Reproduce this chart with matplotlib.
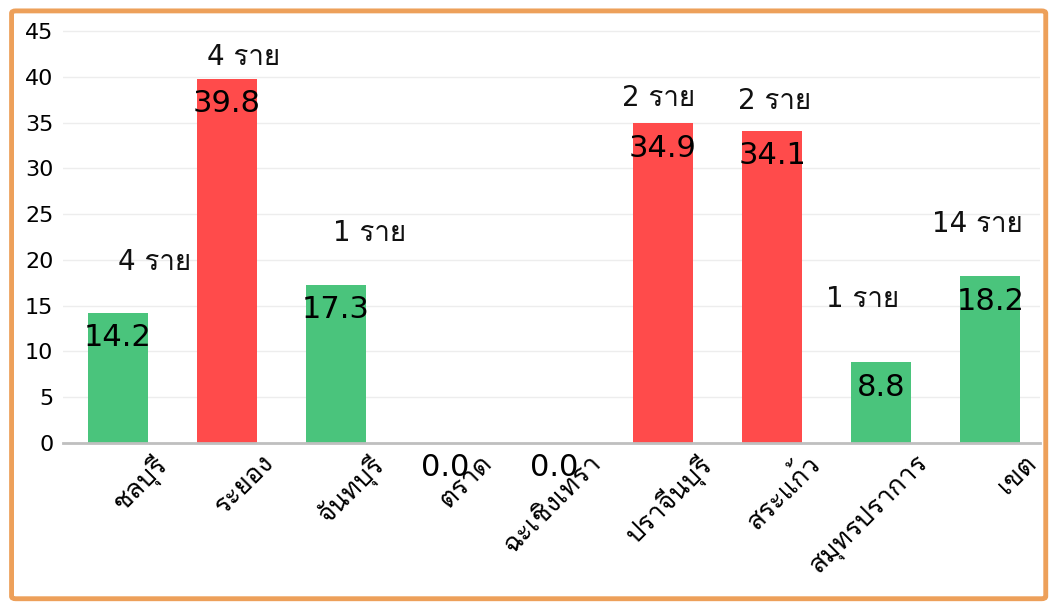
import matplotlib
matplotlib.use("Agg")
import matplotlib.pyplot as plt
import matplotlib.font_manager as fm
import matplotlib.transforms as mtransforms
from matplotlib.patches import FancyBboxPatch
from matplotlib.ft2font import FT2Font

# data
provinces = ['ชลบุรี', 'ระยอง', 'จันทบุรี', 'ตราด', 'ฉะเชิงเทรา',
             'ปราจีนบุรี', 'สระแก้ว', 'สมุทรปราการ', 'เขต']
rates = [14.2, 39.8, 17.3, 0.0, 0.0, 34.9, 34.1, 8.8, 18.2]
cases = [4, 4, 1, 0, 0, 2, 2, 1, 14]
is_high = [False, True, False, False, False, True, True, False, False]
yticks = [0, 5, 10, 15, 20, 25, 30, 35, 40, 45]

# layout of the "ราย" notes, pixel offsets from the top of each bar
note_offsets = [(37, 51), (17, 22), (34, 52), (0, 0), (0, 0),
                (-4, 25), (2, 30), (-19, 63), (-13, 52)]

GREEN = '#4AC47C'
RED = '#FF4B4B'
ORANGE = '#EDA05A'


def find_thai_font():
    found = []
    for f in fm.fontManager.ttflist:
        try:
            cmap = FT2Font(f.fname).get_charmap()
        except Exception:
            continue
        if 0x0E23 in cmap and 0x0E32 in cmap:
            found.append(f.name)
    return found


thai = find_thai_font()
families = ['DejaVu Sans'] + thai[:1]
plt.rcParams['font.family'] = families

fig = plt.figure(figsize=(10.51, 6.06), dpi=100)
fig.patches.append(FancyBboxPatch((0.011, 0.012), 0.984, 0.97,
                                  boxstyle='round,pad=0,rounding_size=0.004',
                                  transform=fig.transFigure, fill=False,
                                  edgecolor=ORANGE, linewidth=3.5))

ax = fig.add_axes([0.060, 0.269, 0.930, 0.695])
x = list(range(len(provinces)))
colors = [RED if h else GREEN for h in is_high]
ax.bar(x, rates, width=0.55, color=colors, zorder=2)

ax.set_xlim(-0.5, 8.46)
ax.set_ylim(0, 46)
ax.set_yticks(yticks)
ax.yaxis.grid(True, color='#EDEDED', linewidth=1, zorder=0)
for s in ['top', 'right', 'left']:
    ax.spines[s].set_visible(False)
ax.spines['bottom'].set_color('#BFBFBF')
ax.spines['bottom'].set_linewidth(2)
ax.tick_params(axis='y', length=0, pad=7, labelsize=16, labelcolor='#000000')
ax.tick_params(axis='x', length=0, pad=5)

ax.set_xticks(x)
ax.set_xticklabels(provinces, rotation=45, ha='right', va='top',
                   rotation_mode='anchor', fontsize=19)
shift = mtransforms.ScaledTranslation(0.34, 0, fig.dpi_scale_trans)
for lab in ax.get_xticklabels():
    lab.set_transform(lab.get_transform() + shift)

for i, v in enumerate(rates):
    ax.annotate(f'{v:.1f}', xy=(i, v), xytext=(0, -25),
                textcoords='offset pixels', ha='center', va='center',
                fontsize=22, color='#000000', zorder=3)
    if cases[i] > 0:
        dx, dy = note_offsets[i]
        ax.annotate(f'{cases[i]} ราย', xy=(i, v), xytext=(dx, dy),
                    textcoords='offset pixels', ha='center', va='center',
                    fontsize=20, color='#111111', zorder=3)

fig.savefig('out.png', dpi=100)
